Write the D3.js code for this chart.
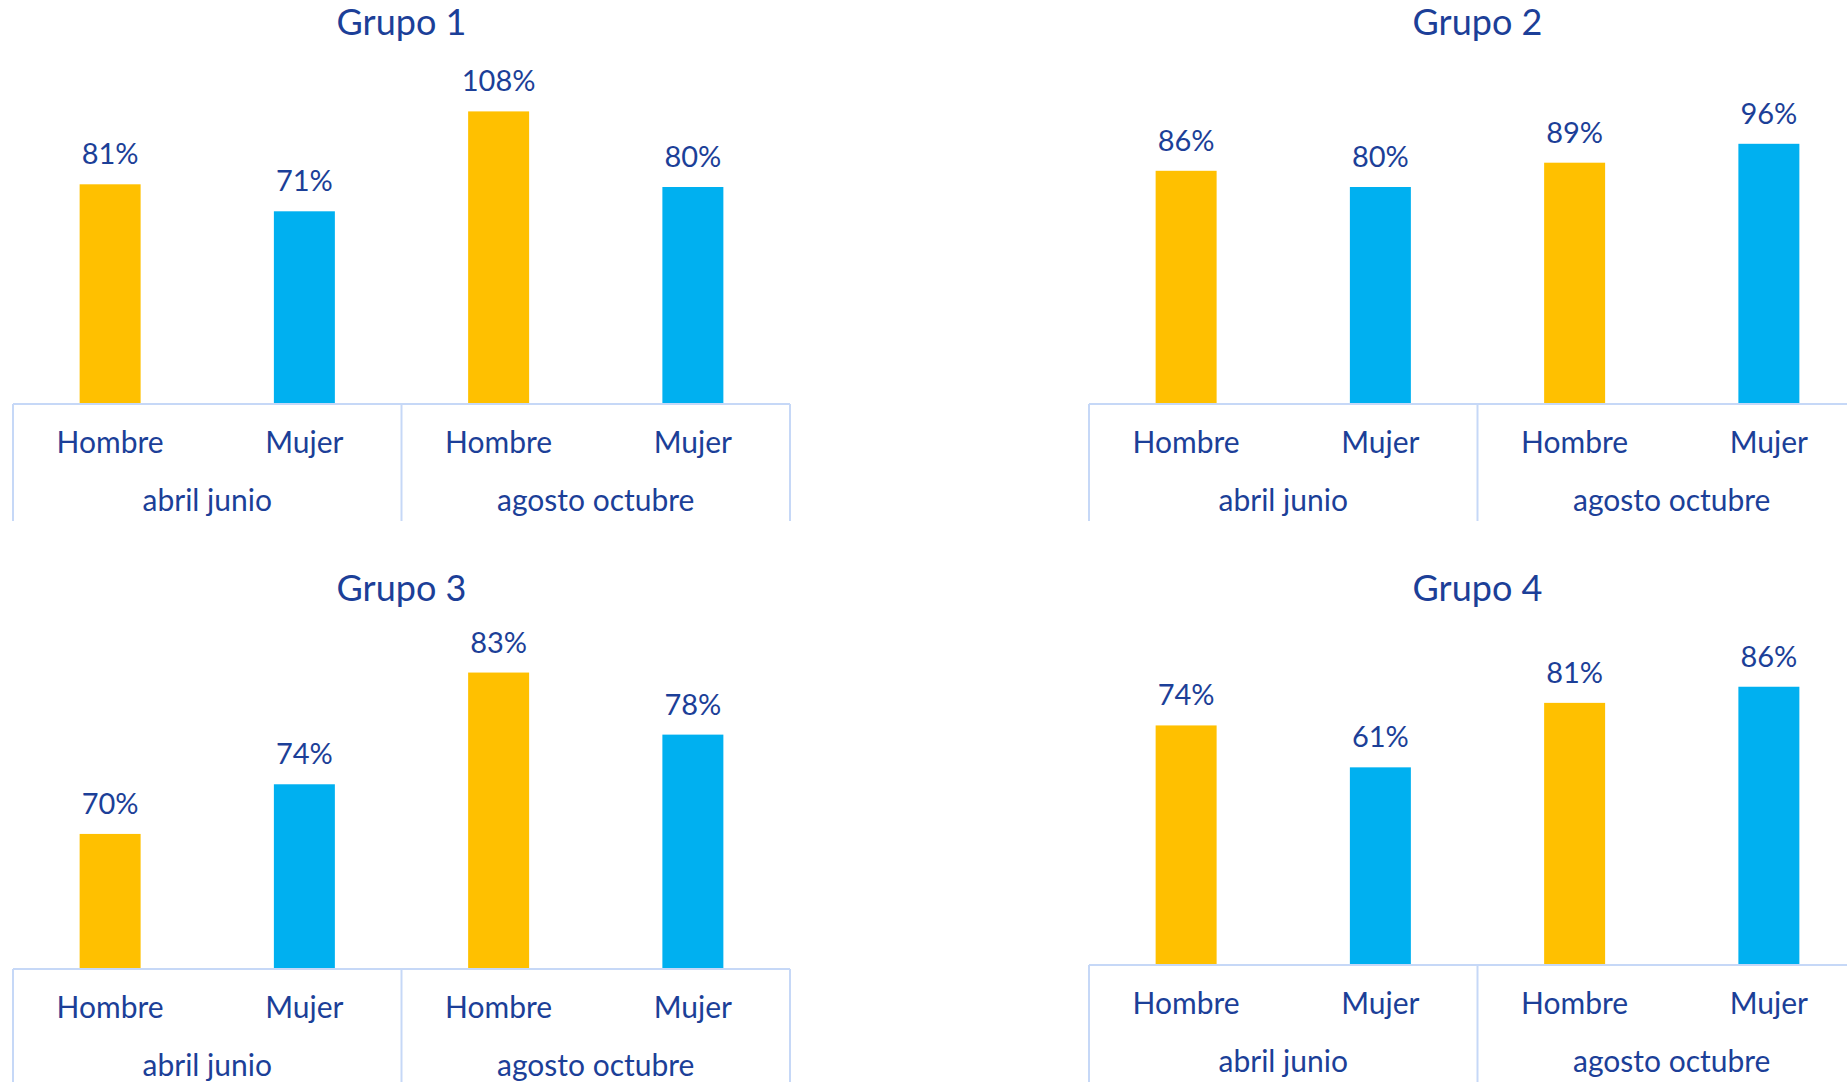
<!DOCTYPE html>
<html>
<head>
<meta charset="utf-8">
<script src="https://cdn.jsdelivr.net/npm/d3@7"></script>
<style>
  html, body { margin: 0; padding: 0; background: #fff; }
  svg { display: block; }
</style>
</head>
<body>
<svg id="chart"></svg>
<script>
// datos
const groups = ["Grupo 1", "Grupo 2", "Grupo 3", "Grupo 4"];
const periods = ["abril junio", "agosto octubre"];
const sexes = ["Hombre", "Mujer"];
// valores por grupo: [abril Hombre, abril Mujer, agosto Hombre, agosto Mujer]
const grupo1 = [0.81, 0.71, 1.08, 0.80];
const grupo2 = [0.86, 0.80, 0.89, 0.96];
const grupo3 = [0.70, 0.74, 0.83, 0.78];
const grupo4 = [0.74, 0.61, 0.81, 0.86];
const values = [grupo1, grupo2, grupo3, grupo4];
// dominio del eje vertical de cada grafico (como en el original, no todos empiezan en 0)
const yDomains = [[0, 1.2], [0, 1.2], [0.592, 0.853], [0, 1.005]];

const width = 1847;
const height = 1082;
const colors = {Hombre: "#FFC000", Mujer: "#00B0F0"};
const textColor = "#1c3f98";
const lineColor = "#c6d8f7";
const font = "Lato, 'Open Sans', sans-serif";

// posicion de cada panel (izquierda, linea base, titulo)
const panelW = 777;
const plotH = 324;
const panelX = [13, 1089, 13, 1089];
const panelBase = [403, 403, 968, 964];
const titleY = [35, 35, 601, 601];

const svg = d3.select("#chart")
    .attr("width", width)
    .attr("height", height)
    .attr("viewBox", [0, 0, width, height])
    .style("font-family", font);

const keys = periods.flatMap(p => sexes.map(s => p + "|" + s));

groups.forEach((name, i) => {
    const x0 = panelX[i];
    const base = panelBase[i];

    const x = d3.scaleBand()
        .domain(keys)
        .range([x0, x0 + panelW])
        .paddingInner(0.686)
        .paddingOuter(0.343);

    const xp = d3.scaleBand()
        .domain(periods)
        .range([x0, x0 + panelW]);

    const y = d3.scaleLinear()
        .domain(yDomains[i])
        .range([base, base - plotH]);

    const data = keys.map((k, j) => ({key: k, sex: k.split("|")[1], value: values[i][j]}));

    const g = svg.append("g");

    // titulo
    g.append("text")
        .attr("x", x0 + panelW / 2)
        .attr("y", titleY[i])
        .attr("text-anchor", "middle")
        .attr("fill", textColor)
        .attr("font-size", 36)
        .text(name);

    // barras
    g.selectAll("rect")
      .data(data)
      .join("rect")
        .attr("x", d => x(d.key))
        .attr("y", d => y(d.value))
        .attr("width", x.bandwidth())
        .attr("height", d => y(yDomains[i][0]) - y(d.value))
        .attr("fill", d => colors[d.sex]);

    // etiquetas de valor
    g.selectAll(".val")
      .data(data)
      .join("text")
        .attr("class", "val")
        .attr("x", d => x(d.key) + x.bandwidth() / 2)
        .attr("y", d => y(d.value) - 20)
        .attr("text-anchor", "middle")
        .attr("fill", textColor)
        .attr("font-size", 29)
        .text(d => d3.format(".0%")(d.value));

    // eje con dos niveles de categorias
    const axis = g.append("g")
        .attr("stroke", lineColor)
        .attr("stroke-width", 2);

    axis.append("line")
        .attr("x1", xp.range()[0]).attr("x2", xp.range()[1])
        .attr("y1", base + 1).attr("y2", base + 1);

    axis.selectAll(".sep")
      .data(periods.map(p => xp(p)).concat([xp.range()[1]]))
      .join("line")
        .attr("class", "sep")
        .attr("x1", d => d).attr("x2", d => d)
        .attr("y1", base + 1).attr("y2", base + 118);

    g.selectAll(".sex")
      .data(data)
      .join("text")
        .attr("class", "sex")
        .attr("x", d => x(d.key) + x.bandwidth() / 2)
        .attr("y", base + 50)
        .attr("text-anchor", "middle")
        .attr("fill", textColor)
        .attr("font-size", 30)
        .text(d => d.sex);

    g.selectAll(".period")
      .data(periods)
      .join("text")
        .attr("class", "period")
        .attr("x", d => xp(d) + xp.bandwidth() / 2)
        .attr("y", base + 108)
        .attr("text-anchor", "middle")
        .attr("fill", textColor)
        .attr("font-size", 30)
        .text(d => d);
});
</script>
</body>
</html>
